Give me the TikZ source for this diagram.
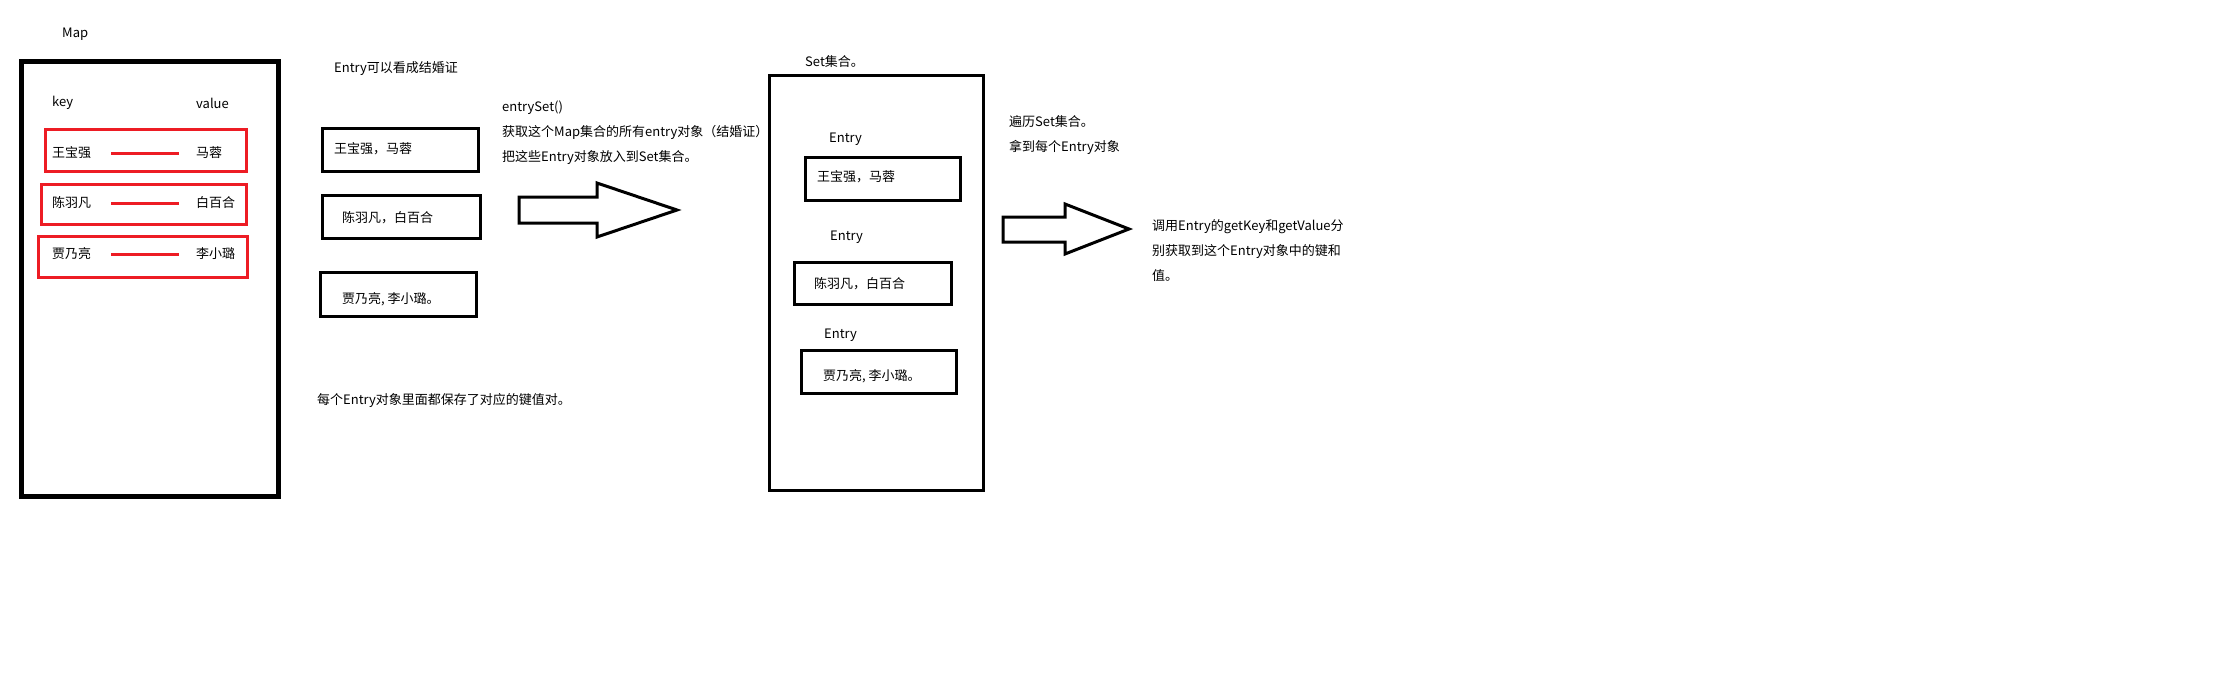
\documentclass[tikz,border=0pt]{standalone}
\usepackage{fontspec}
\setmainfont{Noto Sans CJK SC}
\usepackage{xcolor}
\usetikzlibrary{positioning}
\definecolor{paintred}{RGB}{237,28,36}
\tikzset{
  plaintext/.style={anchor=west,inner sep=0pt,font=\fontsize{13}{25}\selectfont,align=left},
  mapframe/.style={draw=black,line width=5pt,minimum width=257pt,minimum height=435pt,inner sep=0pt},
  setframe/.style={draw=black,line width=3pt,minimum width=214pt,minimum height=415pt,inner sep=0pt},
  pairbox/.style={draw=paintred,line width=3pt,inner sep=0pt},
  entrybox/.style={draw=black,line width=3pt,inner sep=0pt,minimum height=43pt},
  pairline/.style={draw=paintred,line width=3pt,shorten <=20pt,shorten >=17pt},
  blockarrow/.style={draw=black,line width=3pt,line join=miter}
}
\begin{document}
\begin{tikzpicture}[x=1pt,y=-1pt]
  \useasboundingbox (0,0) rectangle (2220,683);
  % Map
  \node[plaintext] (maplabel) at (62,34) {Map};
  \node[mapframe] (map) at (150,279) {};
  \node[plaintext] (keylabel) at (52,103) {key};
  \node[plaintext] (valuelabel) at (196,103) {value};
  \node[pairbox,minimum width=201pt,minimum height=42pt] (pair1) at (146,150.5) {};
  \node[pairbox,minimum width=205pt,minimum height=40pt] (pair2) at (144,204.5) {};
  \node[pairbox,minimum width=209pt,minimum height=41pt] (pair3) at (143,257) {};
  \node[plaintext] (k1) at (52,153) {王宝强};
  \node[plaintext] (v1) at (196,153) {马蓉};
  \node[plaintext] (k2) at (52,203) {陈羽凡};
  \node[plaintext] (v2) at (196,203) {白百合};
  \node[plaintext] (k3) at (52,254) {贾乃亮};
  \node[plaintext] (v3) at (196,254) {李小璐};
  \draw[pairline] (k1.east) -- (v1.west);
  \draw[pairline] (k2.east) -- (v2.west);
  \draw[pairline] (k3.east) -- (v3.west);
  % Entry
  \node[plaintext] (entrynote) at (334,69) {Entry可以看成结婚证};
  \node[entrybox,minimum width=156pt] (e1) at (400.5,150) {};
  \node[entrybox,minimum width=158pt] (e2) at (401.5,217) {};
  \node[entrybox,minimum width=156pt,minimum height=44pt] (e3) at (398.5,294.5) {};
  \node[plaintext] (e1text) at (334,149) {王宝强，马蓉};
  \node[plaintext] (e2text) at (342,218) {陈羽凡，白百合};
  \node[plaintext] (e3text) at (342,299) {贾乃亮, 李小璐。};
  \node[plaintext] (entrysave) at (317,401) {每个Entry对象里面都保存了对应的键值对。};
  \node[plaintext] (entryset) at (502,132.5)
    {entrySet()\\获取这个Map集合的所有entry对象（结婚证）\\把这些Entry对象放入到Set集合。};
  \draw[blockarrow] (519,197) -- (597,197) -- (597,183) -- (677,210)
    -- (597,237) -- (597,223) -- (519,223) -- cycle;
  % Set
  \node[plaintext] (setlabel) at (805,62) {Set集合。};
  \node[setframe] (set) at (876.5,283) {};
  \node[plaintext] (s1label) at (829,139) {Entry};
  \node[plaintext] (s2label) at (830,237) {Entry};
  \node[plaintext] (s3label) at (824,335) {Entry};
  \node[entrybox,minimum width=155pt] (s1) at (883,179) {};
  \node[entrybox,minimum width=157pt,minimum height=42pt] (s2) at (873,283.5) {};
  \node[entrybox,minimum width=155pt] (s3) at (879,372) {};
  \node[plaintext] (s1text) at (817,177) {王宝强，马蓉};
  \node[plaintext] (s2text) at (814,284) {陈羽凡，白百合};
  \node[plaintext] (s3text) at (823,376) {贾乃亮, 李小璐。};
  \node[plaintext] (traverse) at (1009,135.5) {遍历Set集合。\\拿到每个Entry对象};
  \draw[blockarrow] (1003,217) -- (1065,217) -- (1065,204) -- (1129,229)
    -- (1065,254) -- (1065,242) -- (1003,242) -- cycle;
  \node[plaintext] (getkv) at (1152,251)
    {调用Entry的getKey和getValue分\\别获取到这个Entry对象中的键和\\值。};
\end{tikzpicture}
\end{document}
